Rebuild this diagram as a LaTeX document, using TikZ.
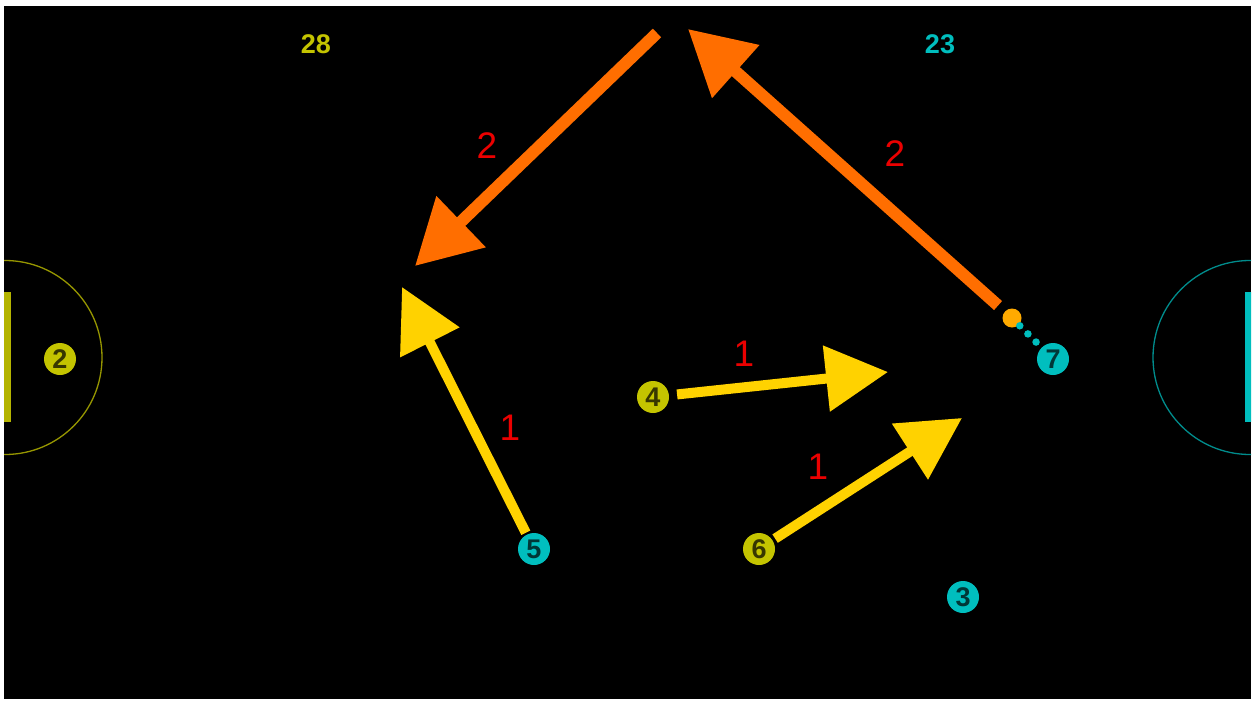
\documentclass[tikz,border=0pt]{standalone}
\usepackage{fontspec}
\setmainfont{Liberation Sans}
\usetikzlibrary{arrows.meta}
\definecolor{olivepl}{RGB}{196,196,0}
\definecolor{olivedk}{RGB}{55,55,0}
\definecolor{olivegoal}{RGB}{180,180,0}
\definecolor{olivering}{RGB}{150,150,0}
\definecolor{cyanpl}{RGB}{0,190,190}
\definecolor{cyandk}{RGB}{0,55,55}
\definecolor{cyanring}{RGB}{0,140,140}
\definecolor{passor}{RGB}{255,110,0}
\definecolor{runyel}{RGB}{255,210,0}
\definecolor{ballc}{RGB}{255,170,0}
\definecolor{lblred}{RGB}{235,0,0}
\tikzset{
  plyA/.style={circle, fill=olivepl, minimum size=32pt, inner sep=0pt, text=olivedk, font=\bfseries\fontsize{27}{27}\selectfont},
  plyB/.style={circle, fill=cyanpl, minimum size=32pt, inner sep=0pt, text=cyandk, font=\bfseries\fontsize{27}{27}\selectfont},
  passarrow/.style={draw=passor, line width=12pt, -{Triangle[length=64pt,width=68pt]}},
  runarrow/.style={draw=runyel, line width=10pt, -{Triangle[length=62pt,width=64pt]}},
  lbl/.style={text=lblred, font=\fontsize{37}{37}\selectfont, inner sep=0pt},
  score/.style={font=\bfseries\fontsize{27}{27}\selectfont, inner sep=0pt},
  ballst/.style={circle, fill=ballc, minimum size=19pt, inner sep=0pt},
  dotted/.style={draw=cyanpl, line width=7.5pt, line cap=round, dash pattern=on 0pt off 11.5pt}
}
\begin{document}
\begin{tikzpicture}[x=1pt,y=-1pt]
\useasboundingbox (0,0) rectangle (1253,704);
\fill[white] (0,0) rectangle (1253,704);
\fill[black] (4,6) rectangle (1251,699);
\begin{scope}
\clip (4,6) rectangle (1251,699);
\draw[olivering, line width=1.3pt] (5,357.5) circle (97);
\draw[cyanring, line width=1.3pt] (1250,357.5) circle (97);
\fill[olivegoal] (4,292) rectangle (11,422);
\fill[cyanpl] (1245,292) rectangle (1252,422);
\end{scope}
% scores
\node[score, text=olivepl] (s28) at (316,44) {28};
\node[score, text=cyanpl] (s23) at (940,44) {23};
% players
\node[plyA] (p2) at (60,359) {2};
\node[plyA] (p4) at (653,397) {4};
\node[plyB] (p5) at (534,549) {5};
\node[plyA] (p6) at (759,549) {6};
\node[plyB] (p3) at (963,597) {3};
\node[plyB] (p7) at (1053,359) {7};
\node[ballst] (ball) at (1012,318) {};
% free ends
\coordinate (o1s) at (657,33);
\coordinate (o1e) at (415,266);
\coordinate (o2e) at (688,29);
\coordinate (y5e) at (402,287);
\coordinate (y4e) at (888,372);
\coordinate (y6e) at (962,418);
% connectors
\draw[dotted, shorten <=11pt, shorten >=20pt] (ball.center) -- (p7.center);
\draw[passarrow] (o1s) -- (o1e);
\draw[passarrow, shorten <=9pt] (ball) -- (o2e);
\draw[runarrow, shorten <=2pt] (p5) -- (y5e);
\draw[runarrow, shorten <=8pt] (p4) -- (y4e);
\draw[runarrow, shorten <=3pt] (p6) -- (y6e);
% labels
\node[lbl] (l1) at (487,146) {2};
\node[lbl] (l2) at (895,154) {2};
\node[lbl] (l3) at (744,354) {1};
\node[lbl] (l4) at (510,428) {1};
\node[lbl] (l5) at (818,467) {1};
\end{tikzpicture}
\end{document}
